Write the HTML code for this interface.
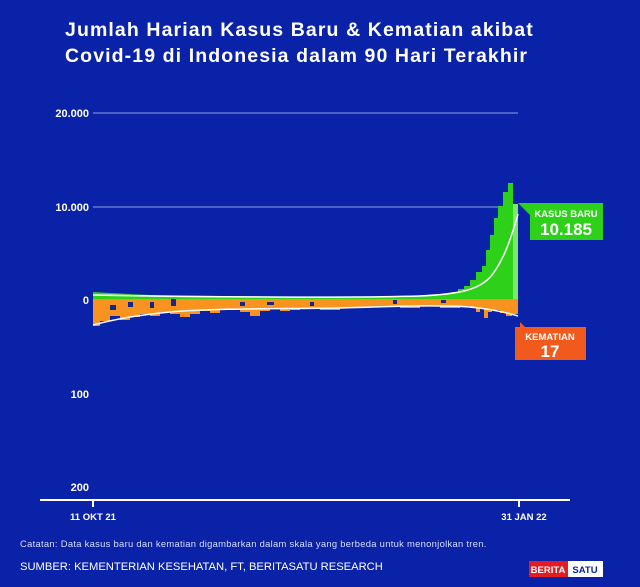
<!DOCTYPE html>
<html><head><meta charset="utf-8"><style>
body{margin:0;background:#0a21a6;}
svg{display:block;font-family:"Liberation Sans",sans-serif;}
</style></head><body>
<svg width="640" height="587" viewBox="0 0 640 587">
<rect width="640" height="587" fill="#0a22a8"/>
<text x="65" y="36" fill="#fff" font-size="19.5" font-weight="bold" letter-spacing="1.1">Jumlah Harian Kasus Baru &amp; Kematian akibat</text>
<text x="65" y="62" fill="#fff" font-size="19.5" font-weight="bold" letter-spacing="1.1">Covid-19 di Indonesia dalam 90 Hari Terakhir</text>
<g stroke="#8fa0e8" stroke-width="1">
<line x1="93" y1="113" x2="518" y2="113"/>
<line x1="93" y1="207" x2="518" y2="207"/>
</g>
<g fill="#fff" font-size="11" font-weight="bold" text-anchor="end">
<text x="89" y="117">20.000</text>
<text x="89" y="211">10.000</text>
<text x="89" y="304">0</text>
<text x="89" y="398">100</text>
<text x="89" y="491">200</text>
</g>
<path fill="#f7931e" d="M93 299 L93 326 L100 326 L100 321 L110 321 L110 316 L120 316 L120 320 L130 320 L130 317 L140 317 L140 314 L150 314 L150 316 L160 316 L160 312 L170 312 L170 314 L180 314 L180 317 L190 317 L190 314 L200 314 L200 311 L210 311 L210 313 L220 313 L220 310 L230 310 L230 309 L240 309 L240 312 L250 312 L250 316 L260 316 L260 311 L270 311 L270 309 L280 309 L280 311 L290 311 L290 310 L300 310 L300 308 L320 308 L320 310 L340 310 L340 308 L360 308 L360 307 L380 307 L380 306 L400 306 L400 308 L420 308 L420 306 L440 306 L440 308 L460 308 L460 306 L470 306 L470 308 L476 308 L476 312 L480 312 L480 308 L484 308 L484 318 L488 318 L488 312 L492 312 L492 310 L500 310 L500 313 L506 313 L506 316 L512 316 L512 314 L518 314 L518 299 Z"/>
<g fill="#14288a">
<rect x="110" y="305" width="6" height="5"/><rect x="128" y="302" width="5" height="5"/><rect x="150" y="302" width="4" height="6"/><rect x="171" y="299" width="5" height="7"/><rect x="240" y="302" width="5" height="4"/><rect x="267" y="302" width="7" height="3"/><rect x="310" y="302" width="4" height="4"/><rect x="393" y="300" width="4" height="4"/><rect x="441" y="300" width="5" height="3"/></g>
<path fill="#2ed11a" d="M93 299 L93 292 L110 293 L150 295 L220 296 L300 297 L390 297 L390 296 L420 296 L420 295 L440 295 L440 294 L452 294 L452 292 L458 292 L458 289 L464 289 L464 286 L470 286 L470 280 L476 280 L476 272 L482 272 L482 266 L486 266 L486 250 L490 250 L490 235 L494 235 L494 218 L498 218 L498 206 L503 206 L503 192 L508 192 L508 183 L513 183 L513 204 L518 204 L518 299 Z"/>
<rect x="513" y="204" width="5" height="95" fill="#7be86a"/>
<path fill="none" stroke="#fff" stroke-width="1.5" d="M93 295 C200 297 350 298 420 296 C460 294 480 290 492 275 C505 258 512 235 518 214"/>
<path fill="none" stroke="#fff" stroke-width="1.5" d="M93 325 C120 318 140 315 170 312 C220 308 280 309 340 308 C400 306 440 305 470 307 C490 309 505 312 518 316"/>
<polygon points="518,203 530,203 530,215" fill="#2ed11a"/>
<rect x="530" y="203" width="73" height="37" fill="#2ed11a"/>
<text x="566" y="217" fill="#fff" font-size="9.5" font-weight="bold" text-anchor="middle">KASUS BARU</text>
<text x="566" y="235" fill="#fff" font-size="17" font-weight="bold" text-anchor="middle">10.185</text>
<polygon points="520,322 533,335 520,335" fill="#f25a1d"/>
<rect x="515" y="327" width="71" height="33" fill="#f25a1d"/>
<text x="550" y="340" fill="#fff" font-size="9.5" font-weight="bold" text-anchor="middle">KEMATIAN</text>
<text x="550" y="357" fill="#fff" font-size="17" font-weight="bold" text-anchor="middle">17</text>
<line x1="40" y1="500" x2="570" y2="500" stroke="#fff" stroke-width="2"/>
<line x1="93" y1="500" x2="93" y2="507" stroke="#fff" stroke-width="2"/>
<line x1="519" y1="500" x2="519" y2="507" stroke="#fff" stroke-width="2"/>
<text x="93" y="520" fill="#fff" font-size="9.5" font-weight="bold" text-anchor="middle">11 OKT 21</text>
<text x="524" y="520" fill="#fff" font-size="9.5" font-weight="bold" text-anchor="middle">31 JAN 22</text>
<text x="20" y="547" fill="#d8defa" font-size="9.4" letter-spacing="0.3">Catatan: Data kasus baru dan kematian digambarkan dalam skala yang berbeda untuk menonjolkan tren.</text>
<text x="20" y="570" fill="#fff" font-size="11.2">SUMBER: KEMENTERIAN KESEHATAN, FT, BERITASATU RESEARCH</text>
<rect x="529" y="561" width="39" height="16" fill="#e31b23"/>
<rect x="568" y="561" width="35" height="16" fill="#fff"/>
<text x="548" y="573" fill="#fff" font-size="9.5" font-weight="bold" text-anchor="middle">BERITA</text>
<text x="585" y="573" fill="#0a21a6" font-size="9.5" font-weight="bold" text-anchor="middle">SATU</text>
</svg>
</body></html>
